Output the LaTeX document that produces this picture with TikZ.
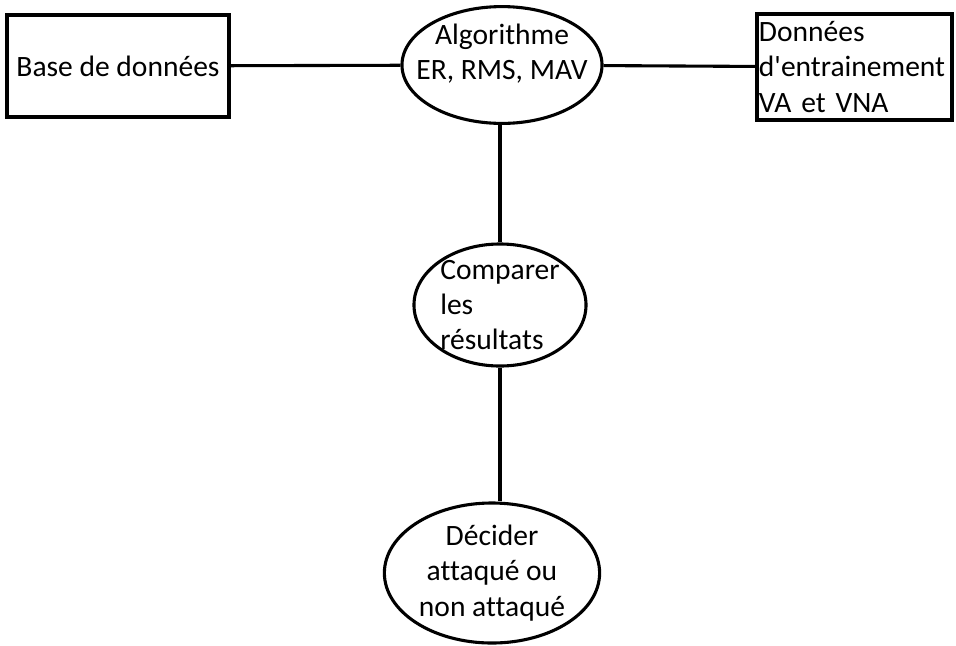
\documentclass[tikz,border=0pt]{standalone}
\usepackage{fontspec}
\setmainfont[Ligatures={NoCommon}]{Carlito}
\usetikzlibrary{shapes.geometric}
\begin{document}
\begin{tikzpicture}[x=0.025cm,y=-0.025cm]
		\tikzstyle{trait}=[line width=2.2pt]
		\tikzstyle{texte}=[font=\fontsize{21}{25}\selectfont]
		\tikzstyle{boite}=[texte,draw,trait,rectangle,inner sep=0.05cm]
		\tikzstyle{bulle}=[texte,draw,trait,ellipse,inner xsep=-0.45cm,inner ysep=-0.2cm]
		\useasboundingbox (0,0) rectangle (956,646);
		\node[boite,minimum width=5.55cm,minimum height=2.55cm] (Base) at (118,66) {Base de données};
		\node[bulle,minimum width=5cm,minimum height=2.92cm,align=center] (Algo) at (502,65) {Algorithme\\ER, RMS, MAV\\[-6pt]\mbox{}};
		\node[boite,text width=4.775cm,minimum height=2.65cm,align=left] (Donnees) at (854.5,67) {Données\\d\textquotesingle entrainement\\VA et VNA};
		\node[bulle,minimum width=4.3cm,minimum height=3.05cm,align=left] (Comparer) at (500,305) {Comparer\\les\\résultats};
		\node[bulle,minimum width=5.38cm,minimum height=3.5cm,align=center] (Decider) at (492,573) {Décider\\attaqué ou\\non attaqué};
		\draw[trait] (Base)--(Algo);
		\draw[trait] (Algo)--(Donnees);
		\draw[trait] (Comparer.north |- Algo.south)--(Comparer.north);
		\draw[trait] (Comparer.south)--(Comparer.south |- Decider.north);
	\end{tikzpicture}
\end{document}
